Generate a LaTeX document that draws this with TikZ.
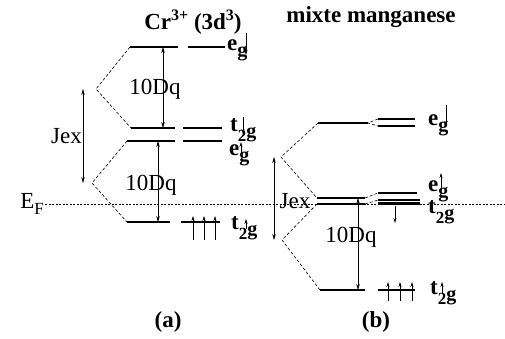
\documentclass[tikz,border=0pt]{standalone}
\usepackage{fontspec}
\setmainfont{Liberation Serif}
\usetikzlibrary{calc,arrows.meta}

\newcommand{\lvllbl}[2]{\textbf{#1}\raisebox{-0.55ex}{\fontsize{20}{20}\selectfont\textbf{#2}}}
\newcommand{\upidx}[1]{\raisebox{0.85ex}{\fontsize{16}{16}\selectfont #1}}
\newcommand{\dnidx}[1]{\raisebox{-0.5ex}{\fontsize{17}{17}\selectfont #1}}

\begin{document}
\begin{tikzpicture}[
  x=1pt, y=-1pt,
  level/.style={line width=2.4pt},
  link/.style={dash pattern=on 3pt off 2pt, line width=0.6pt},
  fermi/.style={dash pattern=on 2pt off 1.5pt, line width=0.5pt},
  gap/.style={{Stealth[length=6pt,width=3.5pt]}-{Stealth[length=6pt,width=3.5pt]}, line width=0.6pt},
  spin/.style={-{Stealth[length=5pt,width=3pt]}, line width=0.6pt},
  every node/.style={font=\fontsize{23}{26}\selectfont, inner sep=1pt}
]
\useasboundingbox (0,0) rectangle (505,338);

% Fermi level
\coordinate (ef1) at (45,204);
\coordinate (ef2) at (505,204);
\draw[fermi] (ef1) -- (ef2);
\node[left] (eflbl) at (ef1) {E\dnidx{F}};

% (a) Cr3+
\node[font=\fontsize{23}{26}\selectfont\bfseries] (titleA) at (193,22) {Cr\upidx{3+} (3d\upidx{3})};
\coordinate (egA1) at (130,47); \coordinate (egA2) at (178,47);
\coordinate (egA3) at (188,47); \coordinate (egA4) at (225,47);
\coordinate (tdnA1) at (131,128); \coordinate (tdnA2) at (175,128);
\coordinate (tdnA3) at (183,128); \coordinate (tdnA4) at (222,128);
\coordinate (eupA1) at (127,141); \coordinate (eupA2) at (175,141);
\coordinate (eupA3) at (183,141); \coordinate (eupA4) at (222,141);
\coordinate (tupA1) at (127,222); \coordinate (tupA2) at (170,222);
\coordinate (tupA3) at (181,222); \coordinate (tupA4) at (220,222);
\coordinate (jexAt) at (96,89);
\coordinate (jexAb) at (92,183);

\draw[level] (egA1) -- (egA2) (egA3) -- (egA4);
\draw[level] (tdnA1) -- (tdnA2) (tdnA3) -- (tdnA4);
\draw[level] (eupA1) -- (eupA2) (eupA3) -- (eupA4);
\draw[level] (tupA1) -- (tupA2) (tupA3) -- (tupA4);
\draw[link] (egA1) -- (jexAt) -- (tdnA1);
\draw[link] (eupA1) -- (jexAb) -- (tupA1);

\coordinate (dqA) at (163,0);
\coordinate (dqB) at (158,0);
\coordinate (jxA) at (83,0);
\draw[gap] (egA1 -| dqA) -- (tdnA1 -| dqA);
\draw[gap] (eupA1 -| dqB) -- (tupA1 -| dqB);
\draw[gap] (jexAt -| jxA) -- (jexAb -| jxA);
\node (dqAlbl) at (155,89) {10Dq};
\node (dqBlbl) at (151,185) {10Dq};
\node[left] (jexAlbl) at ($(jexAt -| jxA)!0.5!(jexAb -| jxA)$) {Jex};
\foreach \x in {193,204,215}
  \draw[spin] (\x,240) -- (\x,216);

\node[anchor=west] (egAlbl) at (226,50) {\lvllbl{e}{g}};
\node[anchor=west] (tdnAlbl) at (229,130) {\lvllbl{t}{\dnidx{2}g}};
\node[anchor=west] (eupAlbl) at (228,155) {\lvllbl{e}{g}};
\node[anchor=west] (tupAlbl) at (230,228) {\lvllbl{t}{\dnidx{2}g}};
\draw[spin] (246,33) -- (246,55);
\draw[spin] (243,117) -- (243,134);
\draw[spin] (241,153) -- (241,142);
\draw[spin] (246,229) -- (246,219);
\node[font=\fontsize{23}{26}\selectfont\bfseries] (capA) at (168,322) {(a)};

% (b) mixte manganese
\node[font=\fontsize{23}{26}\selectfont\bfseries] (titleB) at (371,17) {mixte manganese};
\coordinate (egB1) at (318,123); \coordinate (egB2) at (368,123);
\coordinate (egB3) at (378,119); \coordinate (egB4) at (415,119);
\coordinate (egB5) at (378,126); \coordinate (egB6) at (415,126);
\coordinate (midB1) at (317,198); \coordinate (midB2) at (365,198);
\coordinate (midB3) at (317,204); \coordinate (midB4) at (365,204);
\coordinate (eupB1) at (378,193); \coordinate (eupB2) at (417,193);
\coordinate (tdnB1) at (378,200); \coordinate (tdnB2) at (420,200);
\coordinate (tdnB3) at (378,203.5); \coordinate (tdnB4) at (420,203.5);
\coordinate (tupB1) at (320,290); \coordinate (tupB2) at (365,290);
\coordinate (tupB3) at (378,290); \coordinate (tupB4) at (415,290);
\coordinate (jexBt) at (281,157);
\coordinate (jexBb) at (282,240);

\draw[level] (egB1) -- (egB2) (egB3) -- (egB4) (egB5) -- (egB6);
\draw[level] (midB1) -- (midB2) (midB3) -- (midB4);
\draw[level] (eupB1) -- (eupB2);
\draw[level] (tdnB1) -- (tdnB2) (tdnB3) -- (tdnB4);
\draw[level] (tupB1) -- (tupB2) (tupB3) -- (tupB4);
\draw[link] (egB3) -- (egB2) -- (egB5);
\draw[link] (midB2) -- (eupB1);
\draw[link] (midB4) -- (tdnB1);
\draw[link] (egB1) -- (jexBt) -- (midB1);
\draw[link] (midB3) -- (jexBb) -- (tupB1);

\coordinate (dqC) at (358,0);
\coordinate (jxB) at (274,0);
\draw[gap] (midB1 -| dqC) -- (tupB1 -| dqC);
\draw[gap] (jexBt -| jxB) -- (jexBb -| jxB);
\node (dqClbl) at (351,237) {10Dq};
\node (jexBlbl) at (295,201) {Jex};
\foreach \x in {388,400,412}
  \draw[spin] (\x,301) -- (\x,282);
\coordinate (dnB1) at (395,206);
\coordinate (dnB2) at (395,223);
\draw[spin] (dnB1) -- (dnB2);

\node[anchor=west] (egBlbl) at (427,125) {\lvllbl{e}{g}};
\node[anchor=west] (eupBlbl) at (427,191) {\lvllbl{e}{g}};
\node[anchor=west] (tdnBlbl) at (427,212) {\lvllbl{t}{\dnidx{2}g}};
\node[anchor=west] (tupBlbl) at (429,293) {\lvllbl{t}{\dnidx{2}g}};
\draw[spin] (446,105) -- (446,126);
\draw[spin] (441,190) -- (441,173);
\draw[spin] (442,293) -- (442,282);
\node[font=\fontsize{23}{26}\selectfont\bfseries] (capB) at (376,322) {(b)};
\end{tikzpicture}
\end{document}
